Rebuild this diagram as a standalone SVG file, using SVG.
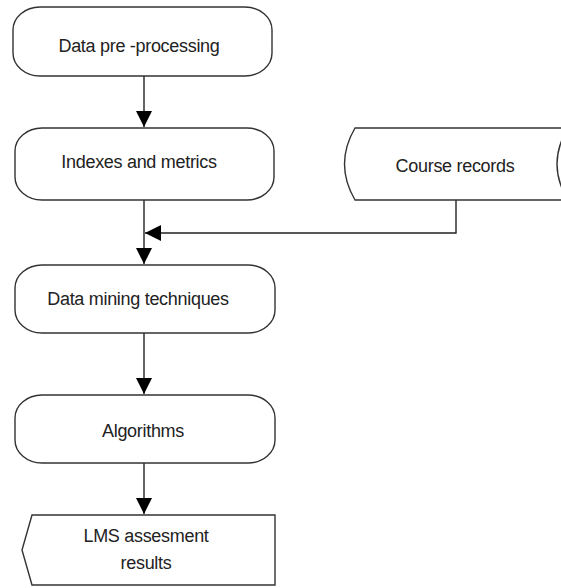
<svg xmlns="http://www.w3.org/2000/svg" width="561" height="588" viewBox="0 0 561 588">
<style>
.n{fill:#fff;stroke:#333;stroke-width:1.4}
.t{font-family:"Liberation Sans",Arial,sans-serif;font-size:18px;fill:#222;text-anchor:middle;letter-spacing:-0.3px}
.c{fill:none;stroke:#222;stroke-width:1.4}
</style>
<defs>
<marker id="ah" markerUnits="userSpaceOnUse" markerWidth="17" markerHeight="16" refX="16" refY="8" orient="auto">
<path d="M0,0 L16,8 L0,16 Z" fill="#000"/>
</marker>
</defs>
<rect width="561" height="588" fill="#fff"/>
<g id="connectors">
<path class="c" d="M144,76 V127" marker-end="url(#ah)"/>
<path class="c" d="M144,200 V264" marker-end="url(#ah)"/>
<path class="c" d="M456,200 V233 H145" marker-end="url(#ah)"/>
<path class="c" d="M144,333 V394" marker-end="url(#ah)"/>
<path class="c" d="M144,463 V514" marker-end="url(#ah)"/>
</g>
<g id="n1"><rect class="n" x="13" y="7" width="259" height="69" rx="27" ry="23"/><text class="t" x="139" y="52">Data pre -processing</text></g>
<g id="n2"><rect class="n" x="15" y="128" width="259" height="72" rx="27" ry="23"/><text class="t" x="139" y="168">Indexes and metrics</text></g>
<g id="n3"><path class="n" d="M355,128 L568,128 Q546,164 568,200 L355,200 Q334,164 355,128 Z"/><text class="t" x="455" y="172">Course records</text></g>
<g id="n4"><rect class="n" x="15" y="265" width="260" height="68" rx="27" ry="23"/><text class="t" x="138" y="305">Data mining techniques</text></g>
<g id="n5"><rect class="n" x="15" y="395" width="260" height="68" rx="27" ry="23"/><text class="t" x="143" y="437">Algorithms</text></g>
<g id="n6"><path class="n" d="M32,515 L275,515 L275,585 L32,585 L22,550 Z"/><text class="t" x="146" y="542">LMS assesment</text><text class="t" x="146" y="569">results</text></g>
</svg>
